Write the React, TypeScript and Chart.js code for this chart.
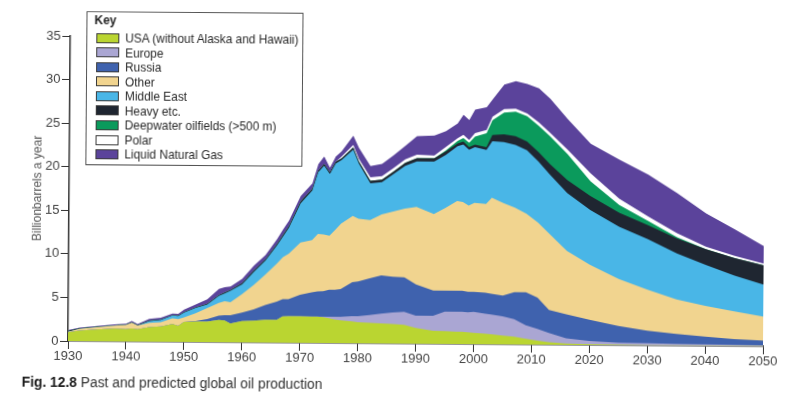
import React, { useEffect, useRef } from "react";
import { Chart, registerables } from "chart.js";

Chart.register(...registerables);

const YEARS = [1930,1932,1935,1938,1940,1941,1942,1944,1946,1948,1949,1950,
  1952,1954,1956,1957,1958,1960,1962,1964,1966,1967,1968,
  1970,1972,1973,1974,1975,1976,1977,1979,1980,1982,1984,1986,1988,
  1990,1993,1995,1997,1998,1999,2000,2002,2003,2005,2007,2009,2011,2013,2016,
  2020,2025,2030,2035,2040,2045,2050];

const USA = [1.0,1.2,1.35,1.45,1.4,1.5,1.4,1.65,1.75,2.05,1.85,2.3,
  2.35,2.35,2.55,2.5,2.15,2.45,2.5,2.6,2.6,3.0,3.05,
  3.05,3.0,3.0,2.95,2.85,2.7,2.6,2.5,2.4,2.35,2.3,2.25,2.15,
  1.8,1.5,1.45,1.4,1.4,1.35,1.3,1.2,1.15,1.0,0.9,0.65,0.45,0.3,0.15,
  0.1,0.05,0.04,0.03,0.03,0.02,0.02];

const EUROPE = [0,0,0,0,0,0,0,0,0,0,0,0,
  0,0,0,0,0,0,0,0,0,0,0,
  0,0,0,0.05,0.15,0.3,0.4,0.6,0.7,0.9,1.1,1.3,1.5,
  1.4,1.7,2.25,2.3,2.3,2.3,2.4,2.3,2.25,2.2,2.0,1.55,1.35,1.05,0.6,
  0.35,0.25,0.21,0.17,0.15,0.13,0.1];

const RUSSIA = [0,0,0,0,0,0,0,0,0,0,0,0,
  0.05,0.3,0.5,0.6,0.95,0.95,1.3,1.7,2.1,2.0,1.95,
  2.45,2.8,2.9,2.95,3.1,3.1,3.2,3.9,4.0,4.2,4.4,4.1,3.95,
  3.6,2.9,2.4,2.4,2.4,2.35,2.3,2.4,2.4,2.4,3.1,3.8,3.6,2.65,2.75,
  2.45,1.9,1.45,1.15,0.87,0.65,0.53];

const OTHER = [0.05,0.2,0.25,0.35,0.5,0.65,0.45,0.5,0.5,0.65,0.75,0.5,
  0.9,1.25,1.45,1.6,1.5,2.15,2.8,3.5,4.4,4.8,5.2,
  6.0,6.0,6.6,6.5,6.2,6.9,7.5,7.6,7.2,6.7,7.0,7.5,7.9,
  8.9,8.8,9.5,10.3,10.2,9.9,10.2,10.2,11.0,10.6,9.7,9.0,8.6,8.7,7.3,
  6.3,5.4,4.7,3.95,3.55,3.2,2.75];

const MIDDLE_EAST = [0,0,0,0,0,0,0,0.2,0.25,0.3,0.35,0.55,
  0.6,0.4,0.8,0.9,1.3,1.1,1.5,1.6,2.1,2.4,3.0,
  4.5,5.7,7.1,7.9,7.1,7.6,7.3,7.6,6.3,4.2,3.7,4.3,4.9,
  5.2,6.0,6.1,6.3,6.6,6.4,6.4,6.2,6.5,7.0,7.2,7.3,7.0,6.8,6.6,
  6.3,6.0,5.8,5.3,4.7,4.1,3.7];

const HEAVY = [0.12,0.05,0.05,0.05,0.05,0.05,0.05,0.05,0.05,0.05,0.05,0.05,
  0.05,0.1,0.1,0.1,0.1,0.15,0.15,0.15,0.15,0.2,0.2,
  0.25,0.2,0.2,0.2,0.2,0.2,0.2,0.25,0.25,0.3,0.3,0.3,0.35,
  0.4,0.4,0.4,0.3,0.35,0.3,0.3,0.3,0.7,0.9,1.0,1.0,1.1,1.2,1.5,
  1.6,1.6,1.6,1.7,1.8,2.0,2.2];

const DEEPWATER = [0,0,0,0,0,0,0,0,0,0,0,0,
  0,0,0,0,0,0,0,0,0,0,0,
  0,0,0,0,0,0,0,0,0,0,0,0,0,
  0,0,0.1,0.3,0.4,0.5,0.9,1.6,1.7,2.5,2.8,2.9,3.0,3.2,3.0,
  1.7,0.9,0.5,0.15,0,0,0];

const POLAR = [0,0,0,0,0,0,0,0,0,0,0,0,
  0,0,0,0,0,0,0,0,0,0,0,
  0,0,0,0,0,0,0.2,0.3,0.3,0.4,0.4,0.4,0.4,
  0.4,0.3,0.4,0.3,0.35,0.3,0.4,0.4,0.4,0.4,0.35,0.3,0.4,0.4,0.5,
  0.9,0.7,0.5,0.45,0.3,0.25,0.2];

const LNG = [0.08,0.1,0.1,0.1,0.1,0.15,0.1,0.2,0.2,0.2,0.2,0.3,
  0.35,0.5,0.7,0.6,0.4,0.5,0.55,0.5,0.55,0.6,0.6,
  0.6,0.6,0.7,0.85,0.5,0.6,0.6,1.05,1.25,1.3,1.4,1.45,1.55,
  2.1,2.3,1.8,1.7,2.3,2.3,2.7,2.6,2.0,2.8,3.15,3.4,3.9,3.9,3.5,
  3.4,4.5,4.8,4.6,3.8,3.05,2.0];

const SERIES_NAMES = [
  "USA (without Alaska and Hawaii)",
  "Europe",
  "Russia",
  "Other",
  "Middle East",
  "Heavy etc.",
  "Deepwater oilfields (>500 m)",
  "Polar",
  "Liquid Natural Gas",
];
const SERIES_VALUES = [USA, EUROPE, RUSSIA, OTHER, MIDDLE_EAST, HEAVY, DEEPWATER, POLAR, LNG];
const SERIES_COLORS = ["#bad531", "#aaa6d3", "#3f62ae", "#f1d48f", "#49b6e7", "#1f2631", "#0b9a5c", "#ffffff", "#5b439b"];

const X_MIN = 1930;
const X_MAX = 2050;
const X_STEP = 10;
const Y_MIN = 0;
const Y_MAX = 35;
const Y_STEP = 5;

const FONT = "'Liberation Sans', Arial, sans-serif";

function LegendBox() {
  const rowTop = 19;
  const step = 14.56;
  return (
    <div
      style={{
        position: "absolute",
        left: 84,
        top: 11,
        width: 217,
        height: 154,
        boxSizing: "border-box",
        border: "1px solid #555",
        background: "#fff",
        fontFamily: FONT,
        color: "#2a2a2a",
      }}
    >
      <div style={{ position: "absolute", left: 7, top: 1, fontSize: 12, lineHeight: "14px", fontWeight: "bold", color: "#222" }}>Key</div>
      {SERIES_NAMES.map((name, i) => (
        <React.Fragment key={name}>
          <div
            style={{
              position: "absolute",
              left: 9,
              top: rowTop + i * step + 1.6,
              width: 23,
              height: 10,
              boxSizing: "border-box",
              border: "1px solid #3a3a3a",
              background: SERIES_COLORS[i],
            }}
          />
          <div
            style={{
              position: "absolute",
              left: 38,
              top: rowTop + i * step,
              fontSize: 11.9,
              lineHeight: "14px",
              whiteSpace: "nowrap",
            }}
          >
            {name}
          </div>
        </React.Fragment>
      ))}
    </div>
  );
}

export default function App() {
  const canvasRef = useRef<HTMLCanvasElement | null>(null);

  useEffect(() => {
    const canvas = canvasRef.current;
    if (!canvas) return;
    const datasets = SERIES_VALUES.map((vals, i) => ({
      label: SERIES_NAMES[i],
      data: YEARS.map((yr, j) => ({ x: yr, y: vals[j] })),
      backgroundColor: SERIES_COLORS[i],
      borderColor: "rgba(0,0,0,0)",
      borderWidth: 0,
      pointRadius: 0,
      tension: 0,
      fill: "origin",
    }));
    const tickFont = { family: FONT, size: 13 };
    const chart = new Chart(canvas, {
      type: "line",
      data: { datasets },
      options: {
        animation: false,
        responsive: false,
        devicePixelRatio: 1,
        layout: { padding: { left: 0, right: 43, top: 36, bottom: 25 } },
        plugins: { legend: { display: false }, tooltip: { enabled: false } },
        scales: {
          x: {
            type: "linear",
            min: X_MIN,
            max: X_MAX,
            afterFit: (s: any) => { s.height = 30; },
            ticks: { stepSize: X_STEP, callback: (v: any) => String(v), font: tickFont, color: "#444", padding: 0, maxRotation: 0, autoSkip: false },
            grid: { display: true, drawOnChartArea: false, drawTicks: true, tickLength: 8, color: "#333", lineWidth: 1 },
            border: { display: true, color: "#333", width: 1.5 },
          },
          y: {
            stacked: true,
            min: Y_MIN,
            max: Y_MAX,
            afterFit: (s: any) => { s.width = 68; },
            ticks: { stepSize: Y_STEP, font: tickFont, color: "#444", padding: 1.5 },
            grid: { display: true, drawOnChartArea: false, drawTicks: true, tickLength: 8, color: "#333", lineWidth: 1 },
            border: { display: true, color: "#333", width: 1.5 },
            title: { display: true, text: "Billionbarrels a year", font: { family: FONT, size: 12 }, color: "#555", padding: { top: 29, bottom: 0 } },
          },
        },
      },
    } as any);
    return () => chart.destroy();
  }, []);

  return (
    <div style={{ position: "fixed", left: 0, top: 0, width: 806, height: 396, overflow: "hidden", background: "#fff" }}>
      <div
        style={{
          position: "absolute",
          left: 0,
          top: 0,
          width: 806,
          height: 396,
          transform: "rotate(0.44deg)",
          transformOrigin: "68px 341px",
        }}
      >
        <canvas ref={canvasRef} width={806} height={396} style={{ position: "absolute", left: 0, top: 0, width: 806, height: 396 }} />
        <LegendBox />
        <div
          style={{
            position: "absolute",
            left: 22,
            top: 375,
            fontFamily: FONT,
            fontSize: 13.8,
            lineHeight: "16px",
            whiteSpace: "nowrap",
            color: "#333",
          }}
        >
          <span style={{ fontWeight: "bold", color: "#1b1b1b" }}>Fig. 12.8</span> Past and predicted global oil production
        </div>
      </div>
    </div>
  );
}
